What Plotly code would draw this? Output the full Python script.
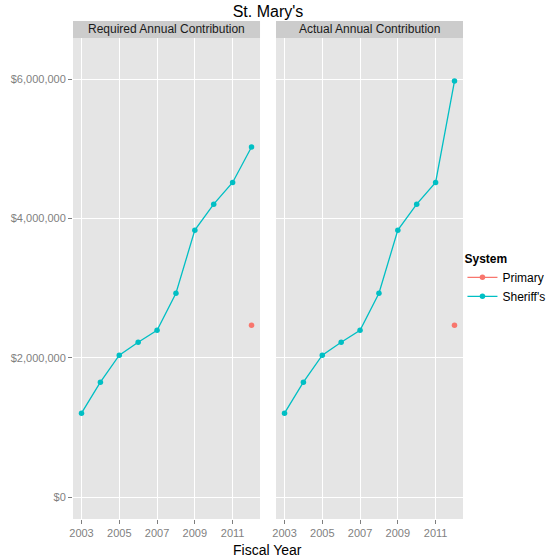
import plotly.graph_objects as go

# Fiscal years and contributions
years = [2003, 2004, 2005, 2006, 2007, 2008, 2009, 2010, 2011, 2012]
sheriff_required = [1206000, 1651000, 2038000, 2225000, 2397000, 2928000, 3833000, 4206000, 4517000, 5025000]
sheriff_actual = [1206000, 1651000, 2038000, 2225000, 2397000, 2928000, 3833000, 4206000, 4517000, 5972000]
primary_years = [2012]
primary_required = [2469000]
primary_actual = [2469000]

panels = ["Required Annual Contribution", "Actual Annual Contribution"]
y_ticks = [0, 2000000, 4000000, 6000000]
y_labels = ["$0", "$2,000,000", "$4,000,000", "$6,000,000"]
x_ticks = [2003, 2005, 2007, 2009, 2011]

primary_col = "#F8766D"
sheriff_col = "#00BFC4"
grey_text = "#7F7F7F"

# plot area is 73px..555px wide (482px); panels sit inside it
dom1 = [0, 0.388]
dom2 = [0.4212, 0.8091]
centre = (dom1[0] + dom2[1]) / 2


def create_chart():
    fig = go.Figure()

    series = [(sheriff_required, primary_required), (sheriff_actual, primary_actual)]
    for i, (sh, pr) in enumerate(series):
        xa = "x" if i == 0 else "x2"
        fig.add_trace(go.Scatter(
            x=primary_years, y=pr, mode="lines+markers", name="Primary",
            marker=dict(color=primary_col, size=5.5), line=dict(color=primary_col, width=1.3),
            xaxis=xa, yaxis="y", showlegend=(i == 0)
        ))
        fig.add_trace(go.Scatter(
            x=years, y=sh, mode="lines+markers", name="Sheriff's",
            marker=dict(color=sheriff_col, size=5.5), line=dict(color=sheriff_col, width=1.3),
            xaxis=xa, yaxis="y", showlegend=(i == 0)
        ))

    axis_common = dict(
        showgrid=True, gridcolor="white", gridwidth=1.1,
        zeroline=False, showline=False,
        ticks="outside", ticklen=4, tickcolor=grey_text,
        tickfont=dict(size=11, color=grey_text),
    )
    fig.update_layout(
        xaxis=dict(domain=dom1, range=[2002.55, 2012.45], tickvals=x_ticks,
                   anchor="y", **axis_common),
        xaxis2=dict(domain=dom2, range=[2002.55, 2012.45], tickvals=x_ticks,
                    anchor="y", **axis_common),
        yaxis=dict(range=[-312000, 6590000], tickvals=y_ticks, ticktext=y_labels,
                   anchor="x", **axis_common),
    )

    # panel backgrounds and facet strips
    shapes = []
    annotations = []
    for dom, label in zip([dom1, dom2], panels):
        shapes.append(dict(type="rect", xref="paper", yref="paper", x0=dom[0], x1=dom[1],
                           y0=0, y1=1, fillcolor="#E5E5E5", line=dict(width=0), layer="below"))
        shapes.append(dict(type="rect", xref="paper", yref="paper", x0=dom[0], x1=dom[1],
                           y0=1, y1=1.0355, fillcolor="#CCCCCC", line=dict(width=0)))
        annotations.append(dict(text=label, xref="paper", yref="paper", x=(dom[0] + dom[1]) / 2,
                                y=1.0178, showarrow=False, xanchor="center", yanchor="middle",
                                font=dict(size=12, color="#1A1A1A")))
    annotations.append(dict(text="Fiscal Year", xref="paper", yref="paper", x=centre, y=-0.043,
                            showarrow=False, xanchor="center", yanchor="top",
                            font=dict(size=14, color="black")))

    fig.update_layout(
        width=555, height=557,
        margin=dict(l=73, r=0, t=38, b=38),
        paper_bgcolor="white", plot_bgcolor="rgba(0,0,0,0)",
        font=dict(family="Liberation Sans, Arial, sans-serif"),
        title=dict(text="St. Mary's", xref="paper", x=centre, xanchor="center",
                   y=0.99, yanchor="top", font=dict(size=16, color="black")),
        shapes=shapes, annotations=annotations,
        legend=dict(title=dict(text="<b>System</b>", font=dict(size=12)),
                    x=0.808, xanchor="left", y=0.565, yanchor="top",
                    font=dict(size=12, color="black"), bgcolor="rgba(0,0,0,0)",
                    tracegroupgap=0),
    )
    return fig


if __name__ == "__main__":
    fig = create_chart()
    fig.write_html("out.html", config={"displayModeBar": False},
                   post_script="document.body.style.margin='0';")
